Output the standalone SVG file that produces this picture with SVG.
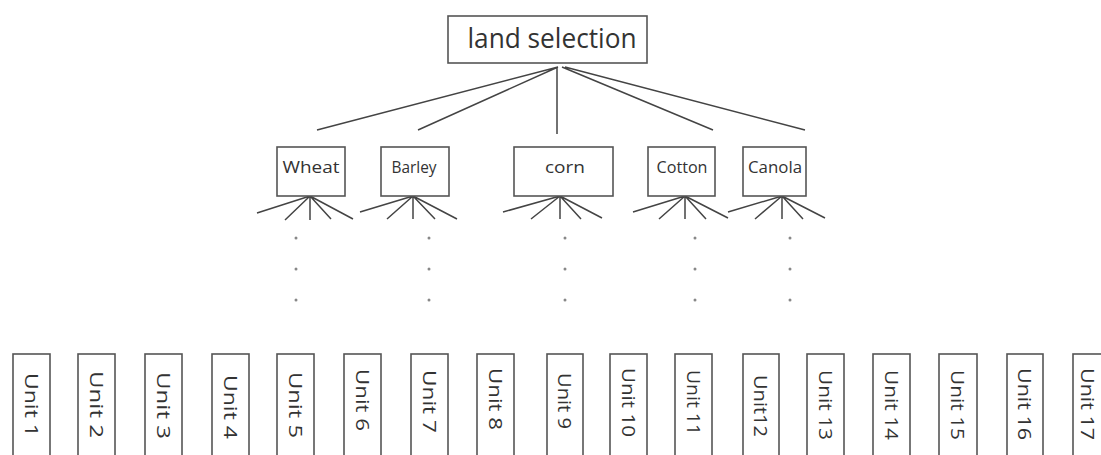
<svg xmlns="http://www.w3.org/2000/svg" width="1101" height="455" viewBox="0 0 1101 455">
<style>
.box{fill:#fff;stroke:#555;stroke-width:1.6}
.ln{stroke:#444;stroke-width:1.5;fill:none}
.t{font-family:"Open Sans","DejaVu Sans",sans-serif;fill:#333}
.u{font-family:"Open Sans","DejaVu Sans",sans-serif;fill:#333;font-size:18px}
.dot{fill:#888}
</style>
<rect width="1101" height="455" fill="#fff"/>
<g id="connectors">
<path class="ln" d="M558,67 L317,130 M558,67 L418,130 M557,67 L557,134 M562,67 L713,130 M565,67 L805,130"/>
<path class="ln" d="M310,196 L257,213 M310,196 L285,220 M310,196 L310,220 M310,196 L331,219 M310,196 L353,219"/>
<path class="ln" d="M413,196 L360,212 M413,196 L387,219 M413,196 L413,219 M413,196 L435,219 M413,196 L457,219"/>
<path class="ln" d="M560,196 L503,212 M560,196 L531,219 M560,196 L560,219 M560,196 L581,219 M560,196 L602,218"/>
<path class="ln" d="M685,196 L633,212 M685,196 L659,219 M685,196 L685,219 M685,196 L706,219 M685,196 L728,218"/>
<path class="ln" d="M782,196 L728,212 M782,196 L755,219 M782,196 L782,219 M782,196 L803,219 M782,196 L825,218"/>
</g>
<g id="dots">
<circle class="dot" cx="296" cy="238" r="1.5"/><circle class="dot" cx="296" cy="269" r="1.5"/><circle class="dot" cx="296" cy="300" r="1.5"/>
<circle class="dot" cx="429" cy="238" r="1.5"/><circle class="dot" cx="429" cy="269" r="1.5"/><circle class="dot" cx="429" cy="300" r="1.5"/>
<circle class="dot" cx="565" cy="238" r="1.5"/><circle class="dot" cx="565" cy="269" r="1.5"/><circle class="dot" cx="565" cy="300" r="1.5"/>
<circle class="dot" cx="695" cy="238" r="1.5"/><circle class="dot" cx="695" cy="269" r="1.5"/><circle class="dot" cx="695" cy="300" r="1.5"/>
<circle class="dot" cx="790" cy="238" r="1.5"/><circle class="dot" cx="790" cy="269" r="1.5"/><circle class="dot" cx="790" cy="300" r="1.5"/>
</g>
<g id="land-selection">
<rect class="box" x="448" y="16" width="199" height="47"/>
<text class="t" x="552" y="48" font-size="28" text-anchor="middle" textLength="169" lengthAdjust="spacingAndGlyphs">land selection</text>
</g>
<g id="wheat">
<rect class="box" x="277" y="147" width="68" height="49"/>
<text class="t" x="311" y="173" font-size="17" text-anchor="middle" textLength="57" lengthAdjust="spacingAndGlyphs">Wheat</text>
</g>
<g id="barley">
<rect class="box" x="381" y="147" width="68" height="49"/>
<text class="t" x="414" y="173" font-size="17" text-anchor="middle" textLength="45" lengthAdjust="spacingAndGlyphs">Barley</text>
</g>
<g id="corn">
<rect class="box" x="514" y="147" width="99" height="49"/>
<text class="t" x="565" y="173" font-size="17" text-anchor="middle" textLength="40" lengthAdjust="spacingAndGlyphs">corn</text>
</g>
<g id="cotton">
<rect class="box" x="648" y="147" width="67" height="49"/>
<text class="t" x="682" y="173" font-size="17" text-anchor="middle" textLength="51" lengthAdjust="spacingAndGlyphs">Cotton</text>
</g>
<g id="canola">
<rect class="box" x="743" y="147" width="63" height="49"/>
<text class="t" x="775" y="173" font-size="17" text-anchor="middle" textLength="54" lengthAdjust="spacingAndGlyphs">Canola</text>
</g>
<g id="unit1"><rect class="box" x="13" y="354" width="37" height="110"/><text class="u" transform="translate(31.5,373) rotate(90)" dominant-baseline="central" textLength="64" lengthAdjust="spacingAndGlyphs">Unit 1</text></g>
<g id="unit2"><rect class="box" x="78" y="354" width="37" height="110"/><text class="u" transform="translate(96.5,371) rotate(90)" dominant-baseline="central" textLength="67" lengthAdjust="spacingAndGlyphs">Unit 2</text></g>
<g id="unit3"><rect class="box" x="145" y="354" width="37" height="110"/><text class="u" transform="translate(163.5,372) rotate(90)" dominant-baseline="central" textLength="67" lengthAdjust="spacingAndGlyphs">Unit 3</text></g>
<g id="unit4"><rect class="box" x="212" y="354" width="37" height="110"/><text class="u" transform="translate(230.5,375) rotate(90)" dominant-baseline="central" textLength="64" lengthAdjust="spacingAndGlyphs">Unit 4</text></g>
<g id="unit5"><rect class="box" x="277" y="354" width="37" height="110"/><text class="u" transform="translate(295.5,372) rotate(90)" dominant-baseline="central" textLength="66" lengthAdjust="spacingAndGlyphs">Unit 5</text></g>
<g id="unit6"><rect class="box" x="344" y="354" width="37" height="110"/><text class="u" transform="translate(362.5,369) rotate(90)" dominant-baseline="central" textLength="62" lengthAdjust="spacingAndGlyphs">Unit 6</text></g>
<g id="unit7"><rect class="box" x="411" y="354" width="37" height="110"/><text class="u" transform="translate(429.5,370) rotate(90)" dominant-baseline="central" textLength="63" lengthAdjust="spacingAndGlyphs">Unit 7</text></g>
<g id="unit8"><rect class="box" x="477" y="354" width="37" height="110"/><text class="u" transform="translate(495.5,368) rotate(90)" dominant-baseline="central" textLength="62" lengthAdjust="spacingAndGlyphs">Unit 8</text></g>
<g id="unit9"><rect class="box" x="547" y="354" width="36" height="110"/><text class="u" transform="translate(565,373) rotate(90)" dominant-baseline="central" textLength="56" lengthAdjust="spacingAndGlyphs">Unit 9</text></g>
<g id="unit10"><rect class="box" x="610" y="354" width="37" height="110"/><text class="u" transform="translate(628.5,368) rotate(90)" dominant-baseline="central" textLength="69" lengthAdjust="spacingAndGlyphs">Unit 10</text></g>
<g id="unit11"><rect class="box" x="675" y="354" width="37" height="110"/><text class="u" transform="translate(693.5,370) rotate(90)" dominant-baseline="central" textLength="65" lengthAdjust="spacingAndGlyphs">Unit 11</text></g>
<g id="unit12"><rect class="box" x="743" y="354" width="36" height="110"/><text class="u" transform="translate(761,375) rotate(90)" dominant-baseline="central" textLength="62" lengthAdjust="spacingAndGlyphs">Unit12</text></g>
<g id="unit13"><rect class="box" x="807" y="354" width="37" height="110"/><text class="u" transform="translate(825.5,370) rotate(90)" dominant-baseline="central" textLength="70" lengthAdjust="spacingAndGlyphs">Unit 13</text></g>
<g id="unit14"><rect class="box" x="873" y="354" width="37" height="110"/><text class="u" transform="translate(891.5,370) rotate(90)" dominant-baseline="central" textLength="70" lengthAdjust="spacingAndGlyphs">Unit 14</text></g>
<g id="unit15"><rect class="box" x="939" y="354" width="38" height="110"/><text class="u" transform="translate(958,370) rotate(90)" dominant-baseline="central" textLength="70" lengthAdjust="spacingAndGlyphs">Unit 15</text></g>
<g id="unit16"><rect class="box" x="1007" y="354" width="36" height="110"/><text class="u" transform="translate(1025,368) rotate(90)" dominant-baseline="central" textLength="72" lengthAdjust="spacingAndGlyphs">Unit 16</text></g>
<g id="unit17"><rect class="box" x="1073" y="354" width="37" height="110"/><text class="u" transform="translate(1088,368) rotate(90)" dominant-baseline="central" textLength="72" lengthAdjust="spacingAndGlyphs">Unit 17</text></g>
</svg>
